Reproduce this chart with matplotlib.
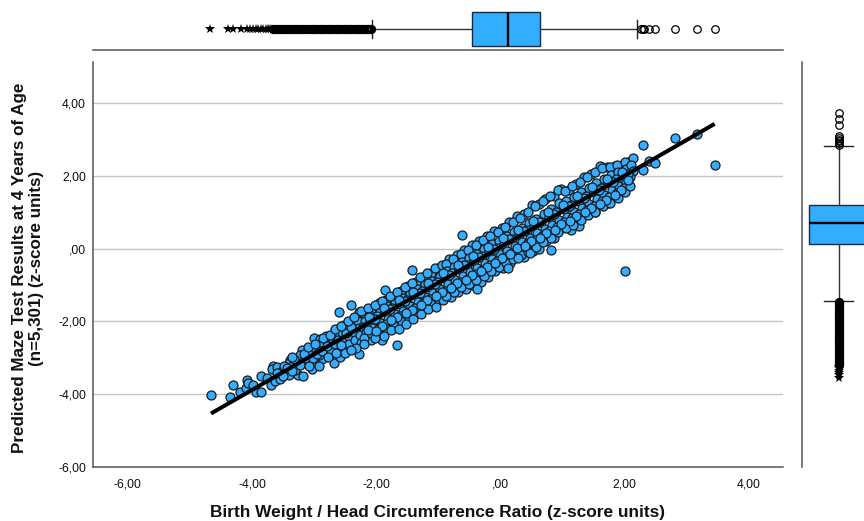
import matplotlib
matplotlib.use("Agg")
import matplotlib.pyplot as plt

plt.rcParams['font.family'] = ['Liberation Sans', 'DejaVu Sans']

x_ticks = [-6, -4, -2, 0, 2, 4]
x_tick_labels = ['-6,00', '-4,00', '-2,00', ',00', '2,00', '4,00']
y_ticks = [-6, -4, -2, 0, 2, 4]
y_tick_labels = ['-6,00', '-4,00', '-2,00', ',00', '2,00', '4,00']

# (birth weight ratio, predicted maze result)
lower_tail = [
    (-4.66, -4.02), (-4.36, -4.09), (-4.30, -3.74), (-4.19, -3.94), (-4.09, -3.83),
    (-4.08, -3.61), (-4.06, -3.68), (-3.94, -3.94), (-3.86, -3.94), (-3.98, -3.76),
    (-3.85, -3.50), (-3.76, -3.56), (-3.69, -3.76), (-3.66, -3.23), (-3.67, -3.30),
    (-3.59, -3.26), (-3.63, -3.65), (-3.55, -3.59), (-3.45, -3.43), (-3.39, -3.05),
    (-3.41, -3.14), (-3.41, -3.46), (-3.27, -3.03), (-3.19, -2.79), (-3.23, -2.93),
    (-3.34, -3.21), (-3.26, -3.46), (-3.18, -3.50), (-3.12, -3.14), (-3.04, -3.32),
    (-3.07, -2.91), (-3.00, -2.46), (-2.90, -2.48), (-2.81, -2.39), (-2.94, -2.68),
    (-2.87, -3.03), (-2.68, -3.14), (-2.76, -2.94), (-2.58, -2.97), (-2.75, -2.63),
    (-2.59, -2.68), (-2.64, -2.36), (-2.52, -2.09), (-2.60, -1.73), (-2.41, -1.56),
    (-2.27, -1.75), (-2.27, -2.89), (-2.08, -2.52), (-1.91, -2.52), (-1.67, -2.66),
    (-1.86, -1.14), (-1.43, -0.58), (-3.52, -3.36), (-3.48, -3.22), (-3.33, -3.02),
    (-3.30, -3.33), (-3.15, -3.00), (-3.10, -2.82), (-3.00, -3.10), (-2.97, -2.78),
    (-2.92, -2.92), (-2.85, -2.60), (-2.82, -2.78), (-2.70, -2.48), (-2.72, -2.78),
    (-2.62, -2.52), (-2.55, -2.28), (-2.53, -2.50), (-2.50, -2.70), (-2.46, -2.22),
    (-2.44, -2.42), (-2.43, -2.62), (-2.38, -2.05), (-2.36, -2.28), (-2.34, -2.52),
    (-2.30, -2.00), (-2.28, -2.18), (-2.26, -2.38), (-2.24, -2.58),
    (-3.60, -3.42), (-3.50, -3.50), (-3.44, -3.28), (-3.36, -3.36), (-3.22, -3.20),
    (-3.16, -2.90), (-3.08, -3.22), (-3.02, -3.00), (-2.96, -2.90), (-2.88, -2.82),
    (-2.80, -2.68), (-2.78, -2.98), (-2.66, -2.62), (-2.64, -2.86), (-2.56, -2.64),
    (-2.48, -2.32), (-2.40, -2.16), (-2.32, -2.74),
]
mid_lower = [
    (-2.20, -1.78), (-2.18, -1.98), (-2.22, -2.14), (-2.16, -2.30), (-2.19, -2.46),
    (-2.08, -1.68), (-2.06, -1.84), (-2.10, -2.02), (-2.05, -2.17), (-2.09, -2.33),
    (-1.96, -1.50), (-1.94, -1.70), (-1.98, -1.86), (-1.93, -2.03), (-1.97, -2.20), (-1.95, -2.34),
    (-1.84, -1.40), (-1.82, -1.58), (-1.86, -1.75), (-1.81, -1.92), (-1.85, -2.08), (-1.83, -2.22),
    (-1.72, -1.30), (-1.70, -1.48), (-1.74, -1.64), (-1.69, -1.80), (-1.73, -1.98), (-1.71, -2.12),
    (-1.60, -1.16), (-1.58, -1.36), (-1.62, -1.52), (-1.57, -1.70), (-1.61, -1.86), (-1.59, -2.02),
    (-1.48, -1.02), (-1.46, -1.22), (-1.50, -1.40), (-1.45, -1.58), (-1.49, -1.74), (-1.47, -1.90),
    (-1.36, -0.92), (-1.34, -1.12), (-1.38, -1.28), (-1.33, -1.46), (-1.37, -1.62), (-1.35, -1.76),
    (-1.24, -0.78), (-1.22, -0.98), (-1.26, -1.16), (-1.21, -1.33), (-1.25, -1.50), (-1.23, -1.64),
    (-1.12, -0.66), (-1.10, -0.88), (-1.14, -1.05), (-1.09, -1.22), (-1.13, -1.38), (-1.11, -1.52),
    (-1.00, -0.52), (-0.98, -0.74), (-1.02, -0.92), (-0.97, -1.10), (-1.01, -1.26), (-0.99, -1.42),
]
mid_centre = [
    (-0.88, -0.42), (-0.86, -0.62), (-0.90, -0.80), (-0.85, -0.98), (-0.89, -1.16), (-0.87, -1.30),
    (-0.76, -0.28), (-0.74, -0.50), (-0.78, -0.68), (-0.73, -0.86), (-0.77, -1.04), (-0.75, -1.20),
    (-0.64, -0.16), (-0.62, -0.38), (-0.66, -0.56), (-0.61, -0.75), (-0.65, -0.92), (-0.63, -1.06),
    (-0.52, -0.04), (-0.50, -0.26), (-0.54, -0.46), (-0.49, -0.64), (-0.53, -0.82), (-0.51, -0.98),
    (-0.40, 0.10), (-0.38, -0.14), (-0.42, -0.34), (-0.37, -0.52), (-0.41, -0.70), (-0.39, -0.86),
    (-0.28, 0.24), (-0.26, 0.00), (-0.30, -0.20), (-0.25, -0.40), (-0.29, -0.58), (-0.27, -0.74),
    (-0.16, 0.34), (-0.14, 0.12), (-0.18, -0.10), (-0.13, -0.28), (-0.17, -0.46), (-0.15, -0.62),
    (-0.04, 0.46), (-0.02, 0.22), (-0.06, 0.02), (-0.01, -0.16), (-0.05, -0.34), (-0.03, -0.50),
    (0.08, 0.60), (0.10, 0.34), (0.06, 0.14), (0.11, -0.06), (0.07, -0.24), (0.09, -0.40),
    (0.20, 0.72), (0.22, 0.46), (0.18, 0.26), (0.23, 0.06), (0.19, -0.12), (0.21, -0.28),
    (0.32, 0.84), (0.34, 0.58), (0.30, 0.38), (0.35, 0.18), (0.31, 0.00), (0.33, -0.18),
    (0.44, 1.00), (0.46, 0.70), (0.42, 0.50), (0.47, 0.30), (0.43, 0.12), (0.45, -0.08),
    (-0.62, 0.38), (-0.37, -1.10), (0.13, -0.52), (0.48, -0.12), (0.28, -0.25), (0.81, -0.03),
]
mid_upper = [
    (0.56, 1.16), (0.58, 0.82), (0.54, 0.62), (0.59, 0.42), (0.55, 0.24), (0.57, 0.04),
    (0.68, 1.30), (0.70, 0.96), (0.66, 0.74), (0.71, 0.54), (0.67, 0.36), (0.69, 0.18),
    (0.80, 1.46), (0.82, 1.10), (0.78, 0.86), (0.83, 0.66), (0.79, 0.48), (0.81, 0.30),
    (0.92, 1.62), (0.94, 1.26), (0.90, 1.00), (0.95, 0.78), (0.91, 0.60), (0.93, 0.46),
    (1.04, 1.58), (1.06, 1.32), (1.02, 1.08), (1.07, 0.88), (1.03, 0.72), (1.05, 0.58),
    (1.16, 1.72), (1.18, 1.42), (1.14, 1.20), (1.19, 1.00), (1.15, 0.84), (1.17, 0.66),
    (1.28, 1.84), (1.30, 1.56), (1.26, 1.32), (1.31, 1.12), (1.27, 0.94), (1.29, 0.78),
    (1.40, 1.98), (1.42, 1.68), (1.38, 1.44), (1.43, 1.24), (1.39, 1.06), (1.41, 0.92),
    (1.52, 2.10), (1.54, 1.80), (1.50, 1.56), (1.55, 1.36), (1.51, 1.18), (1.53, 1.02),
    (1.64, 2.22), (1.66, 1.92), (1.62, 1.68), (1.67, 1.48), (1.63, 1.30), (1.65, 1.16),
    (1.76, 2.24), (1.78, 2.02), (1.74, 1.80), (1.79, 1.60), (1.75, 1.42), (1.77, 1.26),
    (1.88, 2.30), (1.90, 2.10), (1.86, 1.92), (1.91, 1.72), (1.87, 1.54), (1.89, 1.40),
    (2.00, 2.38), (2.02, 2.18), (1.98, 2.02), (2.03, 1.84), (1.99, 1.66), (2.01, 1.57),
    (2.13, 2.50), (2.10, 2.30), (2.14, 2.14), (2.08, 1.96), (2.08, 1.73),
]
upper_edge = [
    (-3.35, -2.98), (-3.10, -2.70), (-2.98, -2.62), (-2.86, -2.46), (-2.74, -2.36), (-2.66, -2.20),
    (-2.56, -2.12), (-2.46, -2.00), (-2.36, -1.88), (-2.24, -1.72), (-2.14, -1.62), (-2.02, -1.56),
    (-1.90, -1.44), (-1.78, -1.30), (-1.66, -1.20), (-1.54, -1.06), (-1.42, -0.94), (-1.30, -0.78),
    (-1.18, -0.66), (-1.06, -0.54), (-0.94, -0.44), (-0.82, -0.28), (-0.70, -0.18), (-0.58, -0.04),
    (-0.46, 0.10), (-0.34, 0.20), (-0.22, 0.34), (-0.10, 0.48), (0.02, 0.58), (0.14, 0.72),
    (0.26, 0.89), (0.38, 0.96), (0.51, 1.21), (0.62, 1.22), (0.71, 1.36), (0.86, 1.44),
    (0.97, 1.64), (1.10, 1.62), (1.22, 1.78), (1.34, 1.96), (1.46, 2.06), (1.61, 2.26),
    (1.72, 2.24), (1.84, 2.28), (1.96, 2.30), (2.06, 2.38),
]
lower_edge = [
    (-2.92, -3.22), (-2.50, -2.86), (-2.40, -2.78), (-2.20, -2.62), (-2.02, -2.46), (-1.88, -2.40),
    (-1.76, -2.24), (-1.64, -2.20), (-1.52, -2.06), (-1.40, -1.94), (-1.28, -1.80), (-1.16, -1.66),
    (-1.04, -1.60), (-0.92, -1.42), (-0.80, -1.34), (-0.68, -1.20), (-0.56, -1.12), (-0.44, -1.00),
    (-0.32, -0.92), (-0.20, -0.78), (-0.08, -0.62), (0.04, -0.52), (0.16, -0.40), (0.38, -0.22),
    (0.52, -0.06), (0.62, 0.00), (0.74, 0.20), (0.86, 0.28), (0.95, 0.52), (1.13, 0.52),
    (1.26, 0.61), (1.52, 1.00), (1.73, 1.25),
]
inner_a = [
    (-2.14, -2.24), (-2.02, -1.94), (-1.90, -2.12), (-1.78, -1.66), (-1.66, -1.88), (-1.54, -1.44),
    (-1.42, -1.68), (-1.30, -1.22), (-1.18, -1.42), (-1.06, -0.98), (-0.94, -1.18), (-0.82, -0.72),
    (-0.70, -0.94), (-0.58, -0.46), (-0.46, -0.72), (-0.34, -0.24), (-0.22, -0.50), (-0.10, -0.02),
    (0.02, -0.26), (0.14, 0.26), (0.26, 0.02), (0.38, 0.48), (0.50, 0.20), (0.62, 0.72),
    (0.74, 0.44), (0.86, 0.94), (0.98, 0.68), (1.10, 1.18), (1.22, 0.90), (1.34, 1.40),
    (1.46, 1.12), (1.58, 1.62), (1.70, 1.34), (1.82, 1.84), (1.94, 1.60), (2.06, 2.06),
]
inner_b = [
    (-2.12, -1.88), (-2.00, -2.26), (-1.88, -1.64), (-1.76, -1.96), (-1.64, -1.42), (-1.52, -1.78),
    (-1.40, -1.18), (-1.28, -1.54), (-1.16, -0.94), (-1.04, -1.30), (-0.92, -0.68), (-0.80, -1.08),
    (-0.68, -0.44), (-0.56, -0.86), (-0.44, -0.20), (-0.32, -0.60), (-0.20, 0.04), (-0.08, -0.40),
    (0.04, 0.28), (0.16, -0.16), (0.28, 0.52), (0.40, 0.06), (0.52, 0.76), (0.64, 0.30),
    (0.76, 1.00), (0.88, 0.52), (1.00, 1.20), (1.12, 0.76), (1.24, 1.46), (1.36, 1.00),
    (1.48, 1.70), (1.60, 1.24), (1.72, 1.92), (1.84, 1.48), (1.96, 2.12), (2.06, 1.88),
]
upper_tail = [
    (2.29, 2.15), (2.40, 2.41), (2.49, 2.35), (2.29, 2.86), (2.81, 3.03),
    (3.16, 3.14), (3.45, 2.30), (2.01, -0.60),
]
scatter_pts = (lower_tail + mid_lower + lower_edge + upper_edge + mid_centre + mid_upper
               + inner_a + inner_b + upper_tail)
birth_ratio = [p[0] for p in scatter_pts]
maze_result = [p[1] for p in scatter_pts]

fit_x = [-4.66, 3.45]
fit_y = [-4.53, 3.43]

# top boxplot, birth weight ratio
bw_box = dict(med=0.13, q1=-0.46, q3=0.63, whislo=-2.07, whishi=2.20, fliers=[])
bw_stars = [-4.68, -4.38, -4.30, -4.18, -4.08, -4.04, -3.98, -3.94, -3.90, -3.86, -3.82, -3.78, -3.75,
            -3.72, -3.69]
bw_circles_low = [-3.66, -3.62, -3.58, -3.53, -3.49, -3.44, -3.40, -3.36, -3.31, -3.27, -3.22, -3.18, -3.13,
                  -3.09, -3.04, -3.00, -2.96, -2.91, -2.87, -2.83, -2.78, -2.74, -2.70, -2.65, -2.61,
                  -2.57, -2.52, -2.48, -2.44, -2.40, -2.35, -2.31, -2.27, -2.23, -2.19, -2.15, -2.11, -2.08]
bw_circles_high = [2.27, 2.29, 2.31, 2.40, 2.49, 2.81, 3.16, 3.45]

# right boxplot, predicted maze result
maze_box = dict(med=0.71, q1=0.14, q3=1.20, whislo=-1.45, whishi=2.83, fliers=[])
maze_stars = [-3.24, -3.29, -3.35, -3.41, -3.47, -3.55]
maze_circles_low = [-1.47, -1.52, -1.58, -1.64, -1.70, -1.76, -1.82, -1.88, -1.94, -2.00, -2.06, -2.12,
                    -2.18, -2.24, -2.30, -2.36, -2.42, -2.48, -2.54, -2.60, -2.66, -2.72, -2.78, -2.84,
                    -2.90, -2.96, -3.02, -3.08, -3.14, -3.20]
maze_circles_high = [2.85, 2.90, 2.95, 3.00, 3.05, 3.10, 3.40, 3.57, 3.72]

blue = '#33adff'
W, H = 864, 521


def px_axes(left, top, right, bottom):
    return fig.add_axes([left / W, 1 - bottom / H, (right - left) / W, (bottom - top) / H])


fig = plt.figure(figsize=(8.64, 5.21), dpi=100)

ax = px_axes(93, 62, 783, 467)
ax.set_xlim(-6.56, 4.55)
ax.set_ylim(-6, 5.13)
for y in [-4, -2, 0, 2, 4]:
    ax.axhline(y, color='#c4c4c4', lw=1, zorder=1)
ax.scatter(birth_ratio, maze_result, s=42, color=blue, edgecolor='#1a1a1a', linewidth=0.9, zorder=2)
ax.plot(fit_x, fit_y, color='black', lw=2.9, zorder=3, solid_capstyle='butt')
ax.set_xticks(x_ticks, x_tick_labels)
ax.set_yticks(y_ticks, y_tick_labels)
ax.tick_params(length=0, labelsize=8.8, pad=5, colors='#111111')
ax.tick_params(axis='x', pad=8)
for s in ['top', 'right']:
    ax.spines[s].set_visible(False)
for s in ['left', 'bottom']:
    ax.spines[s].set_color('#555555')
    ax.spines[s].set_linewidth(1.1)

box_style = dict(patch_artist=True,
                 boxprops=dict(facecolor=blue, edgecolor='#1a2a38', linewidth=1),
                 medianprops=dict(color='black', linewidth=1.7),
                 whiskerprops=dict(color='#333333', linewidth=1),
                 capprops=dict(color='#222222', linewidth=1))

# top boxplot, ylim in pixels above its axis line
top = px_axes(93, 0, 783, 50)
top.set_xlim(ax.get_xlim())
top.set_ylim(0, 50)
top.bxp([bw_box], positions=[21], widths=[34], capwidths=[18], orientation='horizontal',
        showfliers=False, manage_ticks=False, **box_style)
top.plot(bw_circles_low, [21] * len(bw_circles_low), 'o', mfc='none', mec='black', ms=5, mew=1.7)
top.plot(bw_circles_high, [21] * len(bw_circles_high), 'o', mfc='none', mec='black', ms=5.4, mew=0.9)
top.plot(bw_stars, [21] * len(bw_stars), '*', color='black', ms=7.5, mew=0)
top.set_xticks([])
top.set_yticks([])
for s in ['top', 'left', 'right']:
    top.spines[s].set_visible(False)
top.spines['bottom'].set_color('#555555')
top.spines['bottom'].set_linewidth(1.1)

# right boxplot, cut off by the edge of the picture
right = px_axes(802, 62, 864, 467)
right.set_ylim(ax.get_ylim())
right.set_xlim(0, 62)
right.bxp([maze_box], positions=[36.5], widths=[59], capwidths=[29], orientation='vertical',
          showfliers=False, manage_ticks=False, **box_style)
right.plot([36.5] * len(maze_circles_low), maze_circles_low, 'o', mfc='none', mec='black', ms=5, mew=1.7)
right.plot([36.5] * len(maze_circles_high), maze_circles_high, 'o', mfc='none', mec='black', ms=5.4, mew=0.9)
right.plot([36.5] * len(maze_stars), maze_stars, '*', color='black', ms=7.5, mew=0)
right.set_xticks([])
right.set_yticks([])
for s in ['top', 'bottom', 'right']:
    right.spines[s].set_visible(False)
right.spines['left'].set_color('#555555')
right.spines['left'].set_linewidth(1.1)

fig.text(438 / W, 1 - 512 / H, 'Birth Weight / Head Circumference Ratio (z-score units)',
         ha='center', va='center', fontsize=12.45, fontweight='bold', color='#111111')
fig.text(28 / W, 1 - 268 / H, 'Predicted Maze Test Results at 4 Years of Age\n(n=5,301) (z-score units)',
         ha='center', va='center', rotation=90, fontsize=12.25, fontweight='bold', color='#111111',
         linespacing=1.12)

fig.savefig('out.png', dpi=100)
